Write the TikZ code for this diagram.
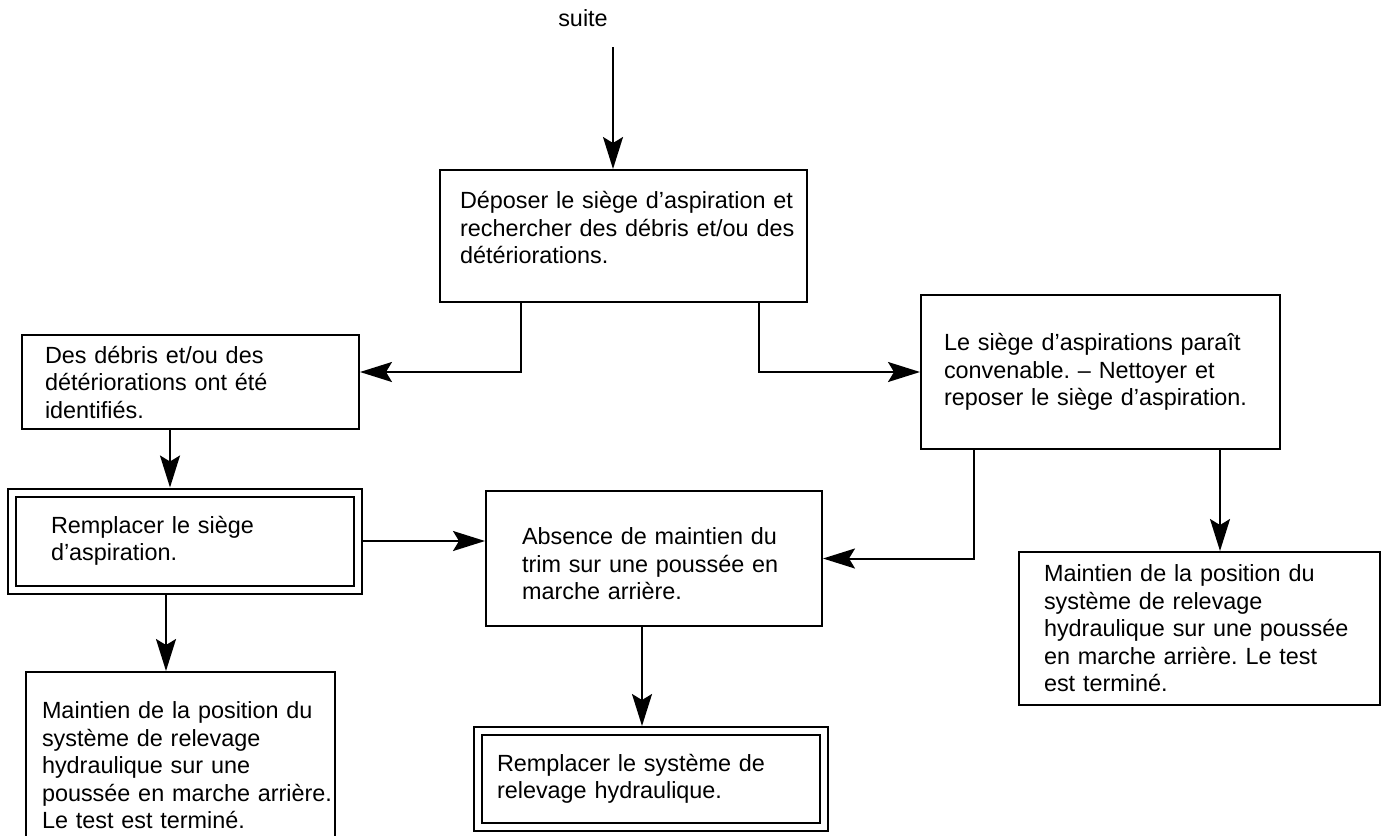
\documentclass[tikz,border=0pt]{standalone}
\usepackage{fontspec}
\setmainfont{Liberation Sans}
\usetikzlibrary{arrows.meta}
\frenchspacing

\begin{document}
\begin{tikzpicture}[x=0.5pt, y=-0.5pt, line width=1pt,
  >={Stealth[length=16pt, width=10pt, inset=3pt]},
  texto/.style={font=\fontsize{11.7}{13.75}\selectfont},
  bloco/.style={draw, rectangle, texto, align=left},
  duplo/.style={bloco, double, double distance=3pt}]
\useasboundingbox (0,0) rectangle (1385,835);

% Blocos
\node[texto] (suite) at (583,18) {suite};
\node[bloco, minimum width=183.5pt, minimum height=66pt, text width=163.5pt, text depth=36pt] (depor) at (623.5,236) {\mbox{Déposer le siège d’aspiration et}\\ \mbox{rechercher des débris et/ou des}\\ détériorations.};
\node[bloco, minimum width=168.5pt, minimum height=47pt, text width=145.5pt] (detritos) at (190.5,382) {Des débris et/ou des\\ détériorations ont été\\ identifiés.};
\node[bloco, minimum width=179.5pt, minimum height=77pt, text width=156.5pt] (limpo) at (1100.5,372) {Le siège d’aspirations paraît\\ convenable. – Nettoyer et\\ reposer le siège d’aspiration.};
\node[duplo, minimum width=173pt, minimum height=48.5pt, text width=134pt] (trocasede) at (185,541) {Remplacer le siège\\ d’aspiration.};
\node[bloco, minimum width=168pt, minimum height=67.5pt, text width=132pt, text height=13.8pt] (semtrim) at (654,558.5) {Absence de maintien du\\ trim sur une poussée en\\ marche arrière.};
\node[bloco, minimum width=180.5pt, minimum height=76.5pt, text width=155.5pt] (fimdir) at (1199.5,628.5) {Maintien de la position du\\ système de relevage\\ hydraulique sur une poussée\\ en marche arrière. Le test\\ est terminé.};
\node[duplo, minimum width=173pt, minimum height=48pt, text width=154pt] (trocasist) at (651,779) {Remplacer le système de\\ relevage hydraulique.};
\node[bloco, minimum width=154.5pt, minimum height=93.5pt, text width=138.5pt] (fimesq) at (180.5,765.5) {Maintien de la position du\\ système de relevage\\ hydraulique sur une\\ \mbox{poussée en marche arrière.}\\ Le test est terminé.};

% Conexões
\coordinate (entrada) at (613,47);
\draw[->] (entrada) -- (entrada |- depor.north);
\draw[->] ([xshift=41pt]depor.south west) |- ([yshift=5pt]detritos.east);
\draw[->] ([xshift=160pt]depor.south west) |- (limpo.west);
\draw[->, shorten >=2pt] ([xshift=-10.25pt]detritos.south) -- ([xshift=-10.25pt]detritos.south |- trocasede.north);
\draw[->, shorten <=2pt] ([xshift=-9.5pt]trocasede.south) -- ([xshift=-9.5pt]trocasede.south |- fimesq.north);
\draw[->, shorten <=2pt] (trocasede.east) -- (trocasede.east -| semtrim.west);
\draw[->] ([xshift=27pt]limpo.south west) |- (semtrim.east);
\draw[->] ([xshift=150pt]limpo.south west) -- ([xshift=150pt]limpo.south west |- fimdir.north);
\draw[->, shorten >=2pt] ([xshift=-6pt]semtrim.south) -- ([xshift=-6pt]semtrim.south |- trocasist.north);
\end{tikzpicture}
\end{document}
